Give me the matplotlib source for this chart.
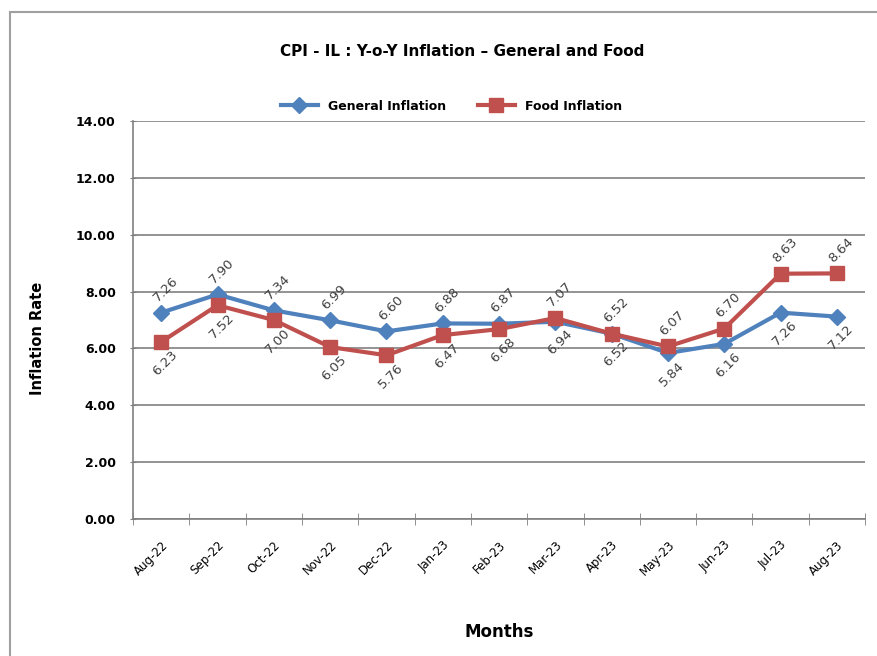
import matplotlib
matplotlib.use("Agg")
import matplotlib.pyplot as plt
from matplotlib.patches import Rectangle

months = ['Aug-22', 'Sep-22', 'Oct-22', 'Nov-22', 'Dec-22', 'Jan-23', 'Feb-23',
          'Mar-23', 'Apr-23', 'May-23', 'Jun-23', 'Jul-23', 'Aug-23']
general = [7.26, 7.90, 7.34, 6.99, 6.60, 6.88, 6.87, 6.94, 6.52, 5.84, 6.16, 7.26, 7.12]
food = [6.23, 7.52, 7.00, 6.05, 5.76, 6.47, 6.68, 7.07, 6.52, 6.07, 6.70, 8.63, 8.64]
# label above the point (True) or below (False)
general_above = [True] * 7 + [False] * 6
food_above = [False] * 7 + [True] * 6

blue = '#4F81BD'
red = '#C0504D'

fig = plt.figure(figsize=(8.77, 6.56), dpi=100)
ax = fig.add_axes([0.1517, 0.2088, 0.8347, 0.6067])

# chart border
fig.patches.append(Rectangle((10 / 877, -0.05), 1.0, (656 - 12) / 656 + 0.05,
                             transform=fig.transFigure, fill=False,
                             edgecolor='#A0A0A0', linewidth=1.5))

x = list(range(len(months)))
ax.plot(x, general, color=blue, linewidth=3, marker='D', markersize=8,
        label='General Inflation', zorder=3)
ax.plot(x, food, color=red, linewidth=3, marker='s', markersize=10,
        label='Food Inflation', zorder=4)

for vals, above in [(general, general_above), (food, food_above)]:
    for i, v in enumerate(vals):
        dy = 17 if above[i] else -15
        ax.annotate(f'{v:.2f}', (i, v), xytext=(3, dy), textcoords='offset points',
                    ha='center', va='center', rotation=45, fontsize=9.5,
                    color='#404040', zorder=5)

ax.set_xlim(-0.5, len(months) - 0.5)
ax.set_ylim(0, 14)
ax.set_yticks([0, 2, 4, 6, 8, 10, 12, 14])
ax.set_yticklabels([f'{t:.2f}' for t in ax.get_yticks()], fontweight='bold', fontsize=9)
ax.yaxis.grid(True, color='#808080', linewidth=1.2)
ax.set_axisbelow(True)

ax.set_xticks(x)
ax.set_xticklabels(months, rotation=45, ha='right', rotation_mode='anchor', fontsize=8.5)
ax.set_xticks([i - 0.5 for i in range(len(months) + 1)], minor=True)
ax.tick_params(axis='x', which='major', length=0, pad=14)
ax.tick_params(axis='x', which='minor', length=8, direction='inout', color='#808080')
ax.tick_params(axis='y', length=5, direction='inout', color='#808080', pad=10)

for s in ['top', 'right']:
    ax.spines[s].set_visible(False)
ax.spines['left'].set_color('#808080')
ax.spines['bottom'].set_color('#808080')
ax.spines['left'].set_linewidth(1.2)
ax.spines['bottom'].set_linewidth(1.2)

ax.set_xlabel('Months', fontweight='bold', fontsize=12)
ax.xaxis.set_label_coords(0.5, -0.262)
ax.set_ylabel('Inflation Rate', fontweight='bold', fontsize=10.5)
ax.yaxis.set_label_coords(-0.12, 0.455)

fig.text(0.527, 0.922, 'CPI - IL : Y-o-Y Inflation – General and Food',
         ha='center', va='center', fontweight='bold', fontsize=11)

leg = ax.legend(loc='center', bbox_to_anchor=(0.435, 1.037), ncol=2, frameon=False,
                fontsize=9, handlelength=3, columnspacing=2.5)
for t in leg.get_texts():
    t.set_fontweight('bold')

fig.savefig('out.png', dpi=100)
